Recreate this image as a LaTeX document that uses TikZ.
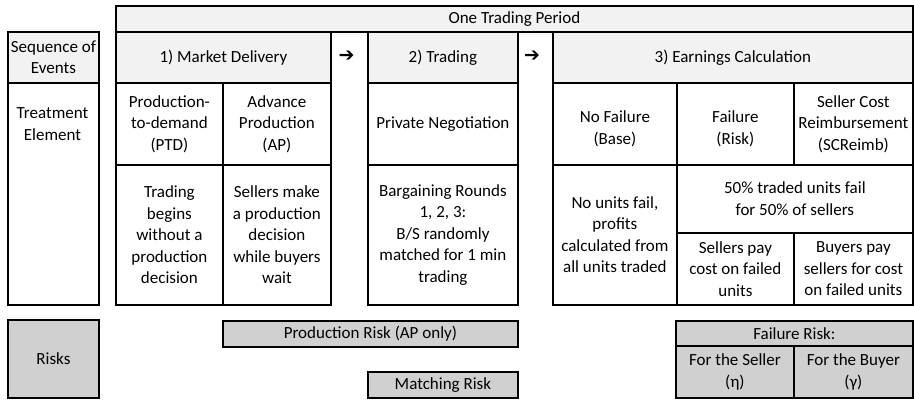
\documentclass[tikz,border=0pt]{standalone}
\usepackage{fontspec}
\setmainfont{Carlito}
\newfontfamily\arrowfont{DejaVu Sans}
\definecolor{headgray}{RGB}{242,242,242}
\definecolor{riskgray}{RGB}{208,208,208}

\begin{document}
\begin{tikzpicture}[x=1pt,y=-1pt,
  cell/.style={draw, line width=1.8pt, anchor=north west, inner sep=0pt, align=center,
    font=\fontsize{17}{21.5}\selectfont},
  head/.style={cell, fill=headgray},
  risk/.style={cell, fill=riskgray},
  arrowmark/.style={font=\arrowfont\bfseries\fontsize{19}{19}\selectfont, inner sep=0pt}]
\useasboundingbox (0,0) rectangle (914,400);
\def\tcell#1#2#3#4#5#6#7{\node[#1, minimum width=#5pt-#3pt, minimum height=#6pt-#4pt] (#2) at (#3,#4) {#7};}
\tcell{head}{seqhead}{7}{31}{98}{82}{Sequence of\\Events}
\tcell{cell}{seqbody}{7}{82}{98}{304}{}
\node[font=\fontsize{17}{21.5}\selectfont, align=center] (treat) at (52.5,124) {Treatment\\Element};
\tcell{risk}{risks}{7}{319}{98}{397}{Risks}
\tcell{head}{period}{115}{5}{912}{31}{One Trading Period}
\tcell{head}{market}{115}{31}{330}{82}{1) Market Delivery}
\tcell{head}{trading}{367}{31}{517}{82}{2) Trading}
\tcell{head}{earnings}{552}{31}{912}{82}{3) Earnings Calculation}
\node[arrowmark] (arr1) at (346.5,56.5) {➔};
\node[arrowmark] (arr2) at (532,56.5) {➔};
\tcell{cell}{ptd}{115}{82}{222}{164}{Production-\\to-demand\\(PTD)}
\tcell{cell}{ap}{222}{82}{330}{164}{Advance\\Production\\(AP)}
\tcell{cell}{ptddesc}{115}{164}{222}{304}{Trading\\begins\\without a\\production\\decision}
\tcell{cell}{apdesc}{222}{164}{330}{304}{Sellers make\\a production\\decision\\while buyers\\wait}
\tcell{cell}{nego}{367}{82}{517}{164}{Private Negotiation}
\tcell{cell}{rounds}{367}{164}{517}{304}{Bargaining Rounds\\1, 2, 3:\\B/S randomly\\matched for 1 min\\trading}
\tcell{cell}{base}{552}{82}{676}{164}{~\\No Failure\\(Base)}
\tcell{cell}{fail}{676}{82}{793}{164}{~\\Failure\\(Risk)}
\tcell{cell}{screimb}{793}{82}{912}{164}{Seller Cost\\Reimbursement\\(SCReimb)}
\tcell{cell}{nounits}{552}{164}{676}{304}{No units fail,\\profits\\calculated from\\all units traded}
\tcell{cell}{half}{676}{164}{912}{232}{50\% traded units fail\\for 50\% of sellers}
\tcell{cell}{sellpay}{676}{232}{793}{304}{Sellers pay\\cost on failed\\units}
\tcell{cell}{buypay}{793}{232}{912}{304}{Buyers pay\\sellers for cost\\on failed units}
\tcell{risk}{prodrisk}{222}{320}{517}{346}{Production Risk (AP only)}
\tcell{risk}{matchrisk}{367}{371}{517}{397}{Matching Risk}
\tcell{risk}{failrisk}{675}{320}{912}{345}{Failure Risk:}
\tcell{risk}{forseller}{675}{345}{793}{397}{For the Seller\\(η)}
\tcell{risk}{forbuyer}{793}{345}{912}{397}{For the Buyer\\(γ)}
\end{tikzpicture}
\end{document}
